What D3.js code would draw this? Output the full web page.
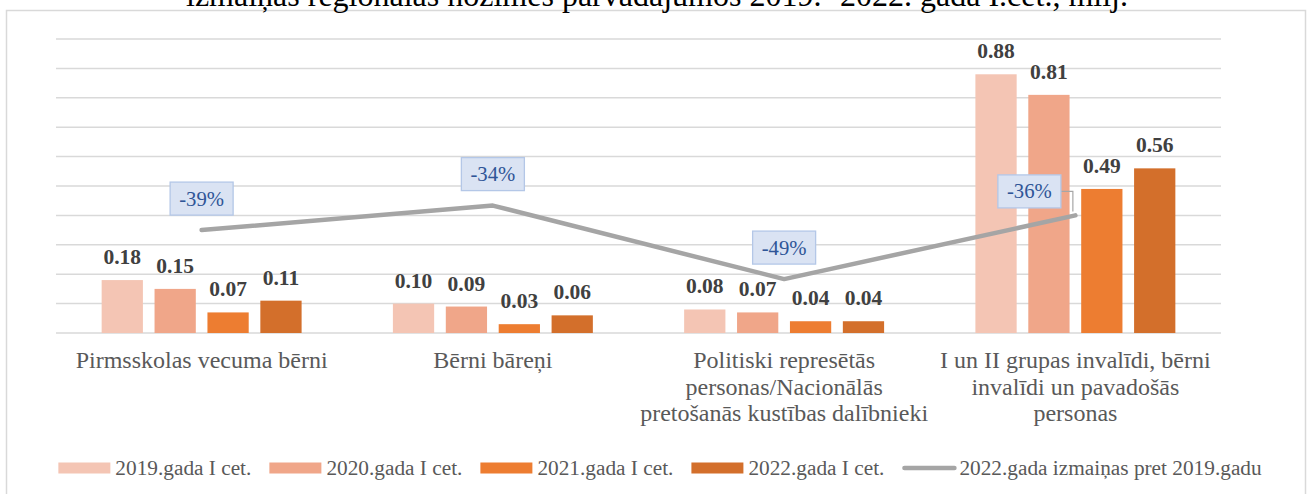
<!DOCTYPE html>
<html>
<head>
<meta charset="utf-8">
<script src="https://cdn.jsdelivr.net/npm/d3@7"></script>
<style>
  body { margin: 0; background: #fff; }
  svg { display: block; font-family: "Liberation Serif", "Times New Roman", serif; }
</style>
</head>
<body>
<div id="chart"></div>
<script>
/**********************/
/******* data         */
/**********************/

const categories = [
    "Pirmsskolas vecuma bērni",
    "Bērni bāreņi",
    "Politiski represētās personas/Nacionālās pretošanās kustības dalībnieki",
    "I un II grupas invalīdi, bērni invalīdi un pavadošās personas"
];
// how the category names break into lines under the axis
const categoryLines = [
    ["Pirmsskolas vecuma bērni"],
    ["Bērni bāreņi"],
    ["Politiski represētās", "personas/Nacionālās", "pretošanās kustības dalībnieki"],
    ["I un II grupas invalīdi, bērni", "invalīdi un pavadošās", "personas"]
];
const seriesNames = ["2019.gada I cet.", "2020.gada I cet.", "2021.gada I cet.", "2022.gada I cet."];
const values2019 = [0.18, 0.10, 0.08, 0.88];
const values2020 = [0.15, 0.09, 0.07, 0.81];
const values2021 = [0.07, 0.03, 0.04, 0.49];
const values2022 = [0.11, 0.06, 0.04, 0.56];
const changeName = "2022.gada izmaiņas pret 2019.gadu";
const changeValues = [-0.39, -0.34, -0.49, -0.36];
const title = "izmaiņas reģionālās nozīmes pārvadājumos 2019.- 2022. gada I.cet., milj.";

const seriesValues = [values2019, values2020, values2021, values2022];
const colors = ["#F4C5B4", "#F0A689", "#ED7D31", "#D36F2B"];

/**********************/
/******* d3           */
/**********************/

const W = 1309, H = 494;
const plot = { left: 56, right: 1221, top: 39, bottom: 333 };

const svg = d3.select("#chart")
    .append("svg")
    .attr("width", W)
    .attr("height", H);

// chart frame
svg.append("rect")
    .attr("x", 6.5).attr("y", 10.5)
    .attr("width", 1299).attr("height", 500)
    .attr("fill", "none")
    .attr("stroke", "#D9D9D9")
    .attr("stroke-width", 1.5);

// title (top cut off, like the source)
svg.append("text")
    .attr("x", 657)
    .attr("y", 6)
    .attr("text-anchor", "middle")
    .style("font-size", "32px")
    .style("fill", "#000")
    .text(title);

const x0 = d3.scaleBand()
    .domain(categories)
    .range([plot.left, plot.right])
    .padding(0);

const x1 = d3.scaleBand()
    .domain(seriesNames)
    .range([0, x0.bandwidth()])
    .paddingInner(0.22)
    .paddingOuter(0.863);

const y = d3.scaleLinear()
    .domain([0, 1])
    .range([plot.bottom, plot.top]);

const y2 = d3.scaleLinear()
    .domain([-0.6, 0])
    .range([plot.bottom, plot.top]);

// gridlines
svg.append("g")
    .selectAll("line")
    .data(y.ticks(10))
    .enter()
    .append("line")
    .attr("x1", plot.left).attr("x2", plot.right)
    .attr("y1", d => y(d)).attr("y2", d => y(d))
    .attr("stroke", "#D9D9D9")
    .attr("stroke-width", 1.5);

// bars
const groups = svg.append("g")
    .selectAll("g")
    .data(categories)
    .enter()
    .append("g")
    .attr("transform", d => `translate(${x0(d)},0)`);

const barData = (cat, ci) => seriesNames.map((s, si) => ({ s: s, si: si, v: seriesValues[si][ci] }));

groups.selectAll("rect")
    .data(barData)
    .enter()
    .append("rect")
    .attr("x", d => x1(d.s))
    .attr("y", d => y(d.v))
    .attr("width", x1.bandwidth())
    .attr("height", d => y(0) - y(d.v))
    .attr("fill", d => colors[d.si]);

groups.selectAll("text")
    .data(barData)
    .enter()
    .append("text")
    .attr("x", d => x1(d.s) + x1.bandwidth() / 2)
    .attr("y", d => y(d.v) - 16)
    .attr("text-anchor", "middle")
    .style("font-size", "21.5px")
    .style("font-weight", "bold")
    .style("fill", "#404040")
    .text(d => d.v.toFixed(2));

// category labels
svg.append("g")
    .selectAll("text")
    .data(categories)
    .enter()
    .append("text")
    .attr("transform", d => `translate(${x0(d) + x0.bandwidth() / 2},368)`)
    .attr("text-anchor", "middle")
    .style("font-size", "24px")
    .style("fill", "#595959")
    .selectAll("tspan")
    .data((d, i) => categoryLines[i])
    .enter()
    .append("tspan")
    .attr("x", 0)
    .attr("dy", (d, i) => i === 0 ? 0 : 26.5)
    .text(d => d);

// change line
const linePts = categories.map((c, i) => ({ c: c, v: changeValues[i], i: i }));
const line = d3.line()
    .x(d => x0(d.c) + x0.bandwidth() / 2)
    .y(d => y2(d.v));

svg.append("path")
    .datum(linePts)
    .attr("d", line)
    .attr("fill", "none")
    .attr("stroke", "#A5A5A5")
    .attr("stroke-width", 4.5)
    .attr("stroke-linecap", "round")
    .attr("stroke-linejoin", "round");

// change labels
const boxW = 63, boxH = 33;
const lbl = svg.append("g")
    .selectAll("g")
    .data(linePts)
    .enter()
    .append("g")
    .attr("transform", d => {
        const px = x0(d.c) + x0.bandwidth() / 2;
        const py = y2(d.v);
        // last label was dragged off to the left in the source
        return d.i === 3 ? `translate(${px - 46},${py - 24})` : `translate(${px},${py - 31.5})`;
    });

// leader for the moved label
lbl.filter(d => d.i === 3)
    .append("polyline")
    .attr("points", `${boxW / 2},0 ${boxW / 2 + 12},0 ${boxW / 2 + 12},20`)
    .attr("fill", "none")
    .attr("stroke", "#A6A6A6")
    .attr("stroke-width", 1.2);

lbl.append("rect")
    .attr("x", -boxW / 2).attr("y", -boxH / 2)
    .attr("width", boxW).attr("height", boxH)
    .attr("fill", "#DAE3F3")
    .attr("stroke", "#B4C7E7")
    .attr("stroke-width", 1.3);

lbl.append("text")
    .attr("y", 7)
    .attr("text-anchor", "middle")
    .style("font-size", "20.7px")
    .style("fill", "#2F5597")
    .text(d => Math.round(d.v * 100) + "%");

// legend
const legendItems = seriesNames.map((s, i) => ({ name: s, color: colors[i], kind: "bar" }))
    .concat([{ name: changeName, color: "#A5A5A5", kind: "line" }]);

const legend = svg.append("g");
let lx = 0;
legendItems.forEach(item => {
    const g = legend.append("g").attr("transform", `translate(${lx},0)`);
    if (item.kind === "bar") {
        g.append("rect")
            .attr("x", 0).attr("y", -5.5)
            .attr("width", 52).attr("height", 11)
            .attr("fill", item.color);
    } else {
        g.append("line")
            .attr("x1", 2).attr("x2", 52)
            .attr("y1", 0).attr("y2", 0)
            .attr("stroke", item.color)
            .attr("stroke-width", 4.5)
            .attr("stroke-linecap", "round");
    }
    const t = g.append("text")
        .attr("x", 57)
        .attr("y", 7)
        .style("font-size", "21.3px")
        .style("fill", "#595959")
        .text(item.name);
    lx += 57 + t.node().getComputedTextLength() + 18;
});
lx -= 18;
legend.attr("transform", `translate(${660 - lx / 2},468)`);
</script>
</body>
</html>
